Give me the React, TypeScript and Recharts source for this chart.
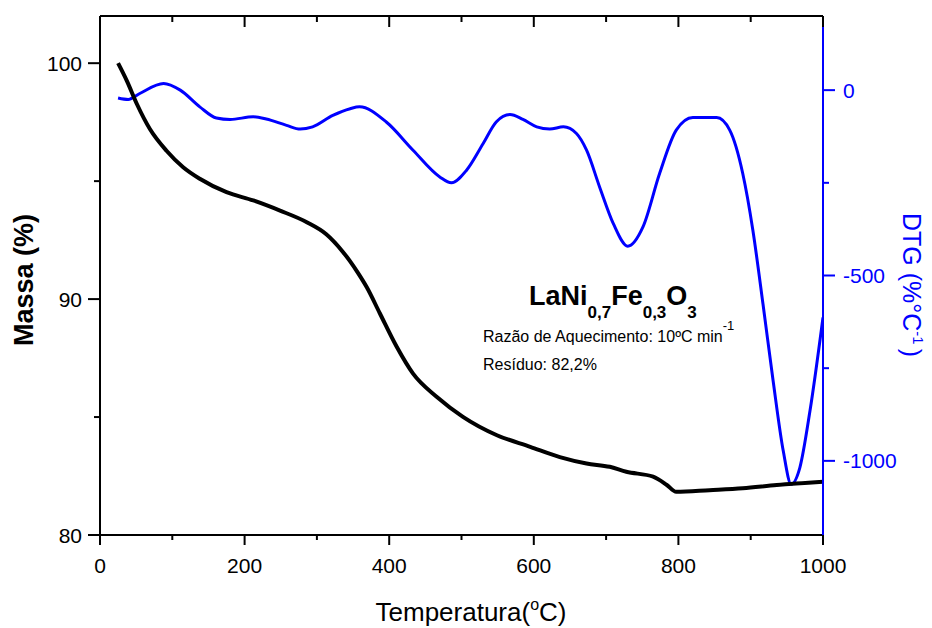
import React from "react";
import { ComposedChart, Line, XAxis, YAxis } from "recharts";

const FONT = "'Liberation Sans', Arial, Helvetica, sans-serif";
const BLUE = "#0000ff";

// TG curve — temperature (°C) vs mass (%)
const tgTemp = [25, 37, 51, 69, 92, 115, 138, 175, 212, 249, 286, 313, 336, 346, 357, 369, 387, 410, 433, 466, 502, 549, 595, 636, 673, 705, 728, 765, 784, 797, 843, 889, 936, 1000];
const tgMass = [100.0, 99.26, 98.27, 97.21, 96.29, 95.59, 95.1, 94.53, 94.18, 93.75, 93.26, 92.75, 92.0, 91.6, 91.1, 90.5, 89.4, 88.0, 86.84, 85.85, 85.01, 84.23, 83.74, 83.3, 83.03, 82.89, 82.68, 82.47, 82.12, 81.83, 81.9, 81.98, 82.12, 82.26];

// DTG curve — temperature (°C) vs rate (%/°C)
const dtgTemp = [25, 39, 55, 88, 111, 138, 161, 180, 212, 230, 258, 277, 294, 322, 346, 359, 396, 433, 470, 486, 507, 530, 548, 567, 585, 604, 622, 641, 659, 673, 691, 710, 730, 751, 774, 797, 820, 853, 871, 889, 903, 917, 931, 945, 956, 968, 982, 1000];
const dtgRate = [-21, -25, -9, 18, 0, -45, -75, -79, -72, -78, -95, -105, -99, -68, -50, -45, -86, -162, -234, -250, -216, -144, -86, -66, -79, -99, -105, -99, -117, -162, -261, -360, -421, -369, -225, -108, -74, -74, -108, -225, -378, -577, -784, -973, -1063, -1018, -865, -613];

const xTicks = [0, 100, 200, 300, 400, 500, 600, 700, 800, 900, 1000];
const xLabels = [0, 200, 400, 600, 800, 1000];
const massTicks = [80, 85, 90, 95, 100];
const massLabels = [80, 90, 100];
const dtgTicks = [-1000, -750, -500, -250, 0];
const dtgLabels = [-1000, -500, 0];

const tgData = tgTemp.map((t, i) => ({ t, mass: tgMass[i] }));
const dtgData = dtgTemp.map((t, i) => ({ t, rate: dtgRate[i] }));

function BottomTick({ x, y, payload }: any) {
  const major = xLabels.includes(payload.value);
  return (
    <g>
      <line x1={x} x2={x} y1={y} y2={y + (major ? 10 : 5)} stroke="#000" strokeWidth={2} />
      {major && (
        <text x={x} y={y + 38} textAnchor="middle" fontSize={21} fontFamily={FONT} fill="#000">
          {payload.value}
        </text>
      )}
    </g>
  );
}

function TopTick({ x, y, payload }: any) {
  const major = xLabels.includes(payload.value);
  return <line x1={x} x2={x} y1={y} y2={y + (major ? 11 : 6)} stroke="#000" strokeWidth={2} />;
}

function LeftTick({ x, y, payload }: any) {
  const major = massLabels.includes(payload.value);
  return (
    <g>
      <line x1={x - (major ? 12 : 6)} x2={x} y1={y} y2={y} stroke="#000" strokeWidth={2} />
      {major && (
        <text x={x - 18} y={y} dy="0.36em" textAnchor="end" fontSize={21} fontFamily={FONT} fill="#000">
          {payload.value}
        </text>
      )}
    </g>
  );
}

function RightTick({ x, y, payload }: any) {
  const major = dtgLabels.includes(payload.value);
  return (
    <g>
      <line x1={x} x2={x + (major ? 12 : 6)} y1={y} y2={y} stroke={BLUE} strokeWidth={2} />
      {major && (
        <text x={x + 20} y={y} dy="0.36em" textAnchor="start" fontSize={21} fontFamily={FONT} fill={BLUE}>
          {payload.value}
        </text>
      )}
    </g>
  );
}

export default function App() {
  return (
    <div style={{ position: "absolute", left: 0, top: 0, width: 932, height: 628, background: "#fff" }}>
      <ComposedChart width={932} height={628} margin={{ top: 0, right: 0, bottom: 0, left: 0 }}>
        <XAxis xAxisId="bottom" dataKey="t" type="number" domain={[0, 1000]} ticks={xTicks}
          interval={0} height={93} tickSize={0} tickMargin={0} tickLine={false}
          axisLine={{ stroke: "#000", strokeWidth: 2 }} tick={(p: any) => <BottomTick {...p} />} allowDataOverflow />
        <XAxis xAxisId="top" orientation="top" dataKey="t" type="number" domain={[0, 1000]} ticks={xTicks}
          interval={0} height={16} tickSize={0} tickMargin={0} tickLine={false}
          axisLine={{ stroke: "#000", strokeWidth: 2 }} tick={(p: any) => <TopTick {...p} />} allowDataOverflow />
        <YAxis yAxisId="left" type="number" domain={[80, 102]} ticks={massTicks} interval={0}
          width={100} tickSize={0} tickMargin={0} tickLine={false}
          axisLine={{ stroke: "#000", strokeWidth: 2 }} tick={(p: any) => <LeftTick {...p} />} allowDataOverflow />
        <YAxis yAxisId="right" orientation="right" type="number" domain={[-1200, 200]} ticks={dtgTicks} interval={0}
          width={109} tickSize={0} tickMargin={0} tickLine={false}
          axisLine={{ stroke: BLUE, strokeWidth: 2 }} tick={(p: any) => <RightTick {...p} />} allowDataOverflow />
        <Line data={dtgData} xAxisId="bottom" yAxisId="right" dataKey="rate" type="monotone"
          stroke={BLUE} strokeWidth={3} dot={false} isAnimationActive={false} />
        <Line data={tgData} xAxisId="bottom" yAxisId="left" dataKey="mass" type="monotone"
          stroke="#000" strokeWidth={4} dot={false} isAnimationActive={false} />
      </ComposedChart>
      <svg width={932} height={628} style={{ position: "absolute", left: 0, top: 0, pointerEvents: "none" }}
        fontFamily={FONT}>
        <text transform="translate(33,280) rotate(-90)" textAnchor="middle" fontSize={27} fontWeight="bold" fill="#000">
          Massa (%)
        </text>
        <text x={471} y={621} textAnchor="middle" fontSize={26} fill="#000">
          Temperatura(<tspan fontSize={16} dy={-11}>o</tspan><tspan dy={11}>C)</tspan>
        </text>
        <text transform="translate(903,285) rotate(90)" textAnchor="middle" fontSize={25} fill={BLUE}>
          DTG (%°C<tspan fontSize={15} dy={-10}>-1</tspan><tspan dy={10} dx={4}>)</tspan>
        </text>
        <text x={529} y={305} fontSize={27} fontWeight="bold" fill="#000">
          LaNi<tspan fontSize={17} dy={13}>0,7</tspan><tspan dy={-13}>Fe</tspan><tspan fontSize={17} dy={13}>0,3</tspan><tspan dy={-13}>O</tspan><tspan fontSize={17} dy={13}>3</tspan>
        </text>
        <text x={483} y={342} fontSize={16} fill="#000">
          Razão de Aquecimento: 10ºC min<tspan fontSize={13} dy={-12}>-1</tspan>
        </text>
        <text x={483} y={370} fontSize={16} fill="#000">
          Resíduo: 82,2%
        </text>
      </svg>
    </div>
  );
}
